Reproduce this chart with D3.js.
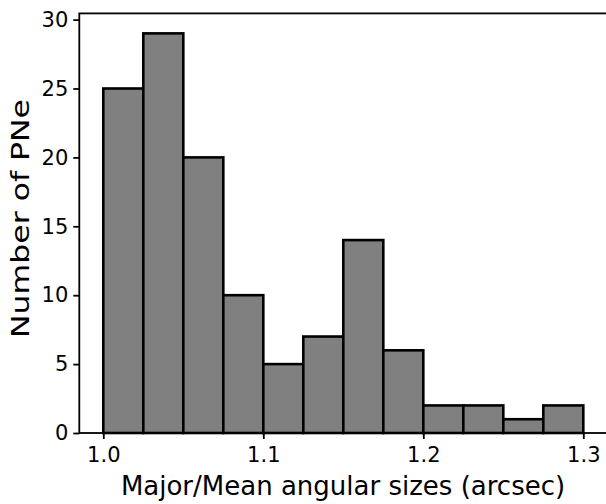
<!DOCTYPE html>
<html>
<head>
<meta charset="utf-8">
<script src="https://cdn.jsdelivr.net/npm/d3@7/dist/d3.min.js"></script>
<style>
  html, body { margin: 0; padding: 0; background: #fff; }
  svg { display: block; font-family: "DejaVu Sans", sans-serif; }
</style>
</head>
<body>
<svg id="chart" width="606" height="504"></svg>
<script>
// Histogram bins: left edges and counts (bin width 0.025)
const binStarts = [1.000, 1.025, 1.050, 1.075, 1.100, 1.125, 1.150, 1.175, 1.200, 1.225, 1.250, 1.275];
const counts    = [25, 29, 20, 10, 5, 7, 14, 6, 2, 2, 1, 2];
const binWidth = 0.025;
const xTicks = [1.0, 1.1, 1.2, 1.3];
const yTicks = [0, 5, 10, 15, 20, 25, 30];
const xLabel = "Major/Mean angular sizes (arcsec)";
const yLabel = "Number of PNe";

const svg = d3.select("#chart");
const plotLeft = 79.3, plotRight = 607.3, plotTop = 13.4, plotBottom = 433;

const x = d3.scaleLinear().domain([0.985, 1.315]).range([plotLeft, plotRight]);
const y = d3.scaleLinear().domain([0, 30.45]).range([plotBottom, plotTop]);

// bars
svg.append("g").selectAll("rect")
  .data(binStarts.map((s, i) => ({ s, c: counts[i] })))
  .join("rect")
  .attr("x", d => x(d.s))
  .attr("y", d => y(d.c))
  .attr("width", d => x(d.s + binWidth) - x(d.s))
  .attr("height", d => y(0) - y(d.c))
  .attr("fill", "#808080")
  .attr("stroke", "#000")
  .attr("stroke-width", 2.6);

// axes
const xAxis = d3.axisBottom(x).tickValues(xTicks).tickFormat(d3.format(".1f"))
  .tickSizeOuter(0).tickSize(6).tickPadding(8);
const yAxis = d3.axisLeft(y).tickValues(yTicks).tickFormat(d3.format("d"))
  .tickSizeOuter(0).tickSize(6).tickPadding(5);

const gx = svg.append("g").attr("transform", `translate(0,${plotBottom})`).call(xAxis);
const gy = svg.append("g").attr("transform", `translate(${plotLeft},0)`).call(yAxis);
[gx, gy].forEach(g => {
  g.select(".domain").remove();
  g.selectAll(".tick line").attr("stroke", "#000").attr("stroke-width", 1.8);
  g.selectAll(".tick text").attr("fill", "#000").style("font-size", "21px")
    .style("font-family", "DejaVu Sans, sans-serif");
});

// frame (spines)
svg.append("rect")
  .attr("x", plotLeft).attr("y", plotTop)
  .attr("width", plotRight - plotLeft).attr("height", plotBottom - plotTop)
  .attr("fill", "none").attr("stroke", "#000").attr("stroke-width", 1.8);

// axis titles
svg.append("text")
  .attr("x", 343).attr("y", 495)
  .attr("text-anchor", "middle")
  .style("font-size", "26px")
  .text(xLabel);

svg.append("text")
  .attr("transform", "translate(29,218.5) rotate(-90)")
  .attr("text-anchor", "middle")
  .attr("textLength", 239)
  .attr("lengthAdjust", "spacingAndGlyphs")
  .style("font-size", "25px")
  .text(yLabel);
</script>
</body>
</html>
